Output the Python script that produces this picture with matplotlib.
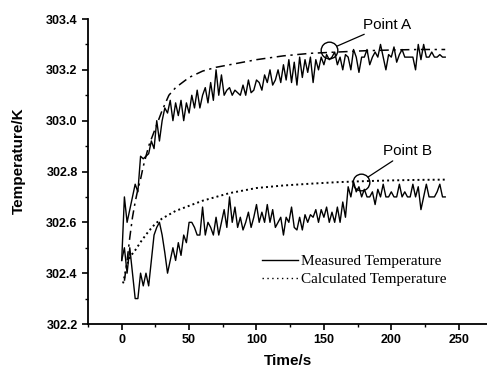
import matplotlib
matplotlib.use("Agg")
import matplotlib.pyplot as plt
from matplotlib.ticker import MultipleLocator
from matplotlib.lines import Line2D

# ---- data ----
t_meas = list(range(0, 242, 2))

meas_A = [302.45, 302.70, 302.60, 302.65, 302.70, 302.75, 302.72, 302.86, 302.85, 302.86,
          302.87, 302.92, 302.89, 303.00, 302.92, 303.00, 303.05, 303.03, 303.08, 303.00,
          303.07, 303.02, 303.08, 303.00, 303.07, 303.03, 303.10, 303.05, 303.12, 303.05,
          303.10, 303.13, 303.07, 303.15, 303.08, 303.20, 303.10, 303.18, 303.10, 303.12,
          303.13, 303.10, 303.12, 303.11, 303.10, 303.14, 303.10, 303.16, 303.11, 303.12,
          303.16, 303.15, 303.12, 303.18, 303.15, 303.20, 303.14, 303.16, 303.20, 303.15,
          303.22, 303.16, 303.24, 303.15, 303.23, 303.14, 303.25, 303.17, 303.24, 303.19,
          303.25, 303.15, 303.24, 303.20, 303.25, 303.22, 303.26, 303.24, 303.25, 303.27,
          303.22, 303.25, 303.20, 303.26, 303.25, 303.20, 303.28, 303.25, 303.19, 303.25,
          303.25, 303.28, 303.22, 303.25, 303.27, 303.25, 303.30, 303.25, 303.20, 303.26,
          303.25, 303.29, 303.23, 303.26, 303.28, 303.25, 303.25, 303.25, 303.25, 303.20,
          303.30, 303.24, 303.30, 303.25, 303.25, 303.27, 303.25, 303.25, 303.26, 303.25,
          303.25]

meas_B = [302.45, 302.50, 302.40, 302.50, 302.40, 302.30, 302.30, 302.40, 302.35, 302.40,
          302.35, 302.45, 302.55, 302.58, 302.60, 302.55, 302.48, 302.40, 302.45, 302.50,
          302.45, 302.52, 302.47, 302.55, 302.52, 302.60, 302.60, 302.58, 302.55, 302.55,
          302.66, 302.55, 302.60, 302.58, 302.55, 302.62, 302.55, 302.60, 302.65, 302.58,
          302.70, 302.60, 302.66, 302.58, 302.62, 302.57, 302.60, 302.64, 302.58, 302.62,
          302.67, 302.60, 302.64, 302.60, 302.67, 302.60, 302.65, 302.58, 302.60, 302.62,
          302.55, 302.62, 302.60, 302.66, 302.58, 302.57, 302.62, 302.57, 302.63, 302.60,
          302.63, 302.62, 302.65, 302.60, 302.65, 302.62, 302.66, 302.60, 302.64, 302.60,
          302.66, 302.60, 302.68, 302.62, 302.74, 302.70, 302.76, 302.72, 302.74, 302.70,
          302.73, 302.70, 302.70, 302.72, 302.67, 302.73, 302.70, 302.75, 302.70, 302.70,
          302.72, 302.70, 302.70, 302.75, 302.70, 302.72, 302.70, 302.70, 302.75, 302.70,
          302.74, 302.65, 302.70, 302.75, 302.70, 302.70, 302.70, 302.72, 302.75, 302.70,
          302.70]

t_calc_A = [2, 4, 6, 8, 10, 12, 14, 16, 18, 20, 25, 30, 35, 40, 45, 50, 60, 70, 80, 90,
            100, 120, 140, 160, 180, 200, 220, 240]
calc_A = [302.37, 302.45, 302.54, 302.62, 302.68, 302.73, 302.77, 302.82, 302.86, 302.90,
          302.97, 303.04, 303.10, 303.13, 303.15, 303.17, 303.195, 303.21, 303.22, 303.23,
          303.24, 303.255, 303.265, 303.27, 303.275, 303.278, 303.28, 303.28]

t_calc_B = [1, 3, 5, 7, 10, 15, 20, 25, 30, 40, 50, 60, 70, 80, 90, 100, 120, 140, 160,
            180, 200, 220, 240]
calc_B = [302.36, 302.41, 302.45, 302.47, 302.49, 302.53, 302.565, 302.595, 302.615,
          302.645, 302.665, 302.685, 302.70, 302.715, 302.725, 302.735, 302.745, 302.752,
          302.758, 302.762, 302.765, 302.767, 302.768]

point_labels = ["Point A", "Point B"]
point_t = [154, 177.5]
point_T = [303.28, 302.76]

x_ticks = [0, 50, 100, 150, 200, 250]
y_ticks = [302.2, 302.4, 302.6, 302.8, 303.0, 303.2, 303.4]

# ---- figure ----
fig = plt.figure(figsize=(4.87, 3.69), dpi=100)
ax = fig.add_axes([88/487, 1-324/369, 1-88/487, (324-19)/369])

ax.plot(t_meas, meas_A, color="black", lw=1.0)
ax.plot(t_meas, meas_B, color="black", lw=1.0)
ax.plot(t_calc_A, calc_A, color="black", lw=1.1, linestyle=(0, (6, 3, 1.5, 3)))
ax.plot(t_calc_B, calc_B, color="black", lw=1.4, linestyle=(0, (1, 1.6)))

# circles marking points
ax.plot(point_t, point_T, linestyle="none", marker="o", markersize=12,
        markerfacecolor="none", markeredgecolor="black", markeredgewidth=1.0)

# annotations
ax.annotate(point_labels[0], xy=(point_t[0], point_T[0]), xytext=(24, 18),
            textcoords="offset points", fontsize=11, family="Liberation Sans",
            ha="left", va="center",
            arrowprops=dict(arrowstyle="-", color="black", lw=0.9,
                            shrinkA=0, shrinkB=6))
ax.annotate(point_labels[1], xy=(point_t[1], point_T[1]), xytext=(16, 22),
            textcoords="offset points", fontsize=11, family="Liberation Sans",
            ha="left", va="center",
            arrowprops=dict(arrowstyle="-", color="black", lw=0.9,
                            shrinkA=0, shrinkB=6))

ax.set_xlim(-25, 271)
ax.set_ylim(302.2, 303.4)
ax.set_xticks(x_ticks)
ax.set_yticks(y_ticks)
ax.xaxis.set_minor_locator(MultipleLocator(25))
ax.yaxis.set_minor_locator(MultipleLocator(0.1))
ax.set_yticklabels([f"{v:.1f}" for v in y_ticks])

for s in ["top", "right"]:
    ax.spines[s].set_visible(False)
for s in ["left", "bottom"]:
    ax.spines[s].set_linewidth(1.3)

ax.tick_params(which="major", direction="out", length=4.5, width=1.2, pad=3)
ax.tick_params(which="minor", direction="out", length=2.5, width=1.0)
for lab in ax.get_xticklabels() + ax.get_yticklabels():
    lab.set_fontweight("bold")
    lab.set_fontsize(9)
    lab.set_family("Liberation Sans")

ax.set_xlabel("Time/s", fontsize=11, fontweight="bold", family="Liberation Sans",
              va="center")
ax.set_ylabel("Temperature/K", fontsize=11, fontweight="bold", family="Liberation Sans",
              va="center")
ax.xaxis.set_label_coords(0.5, (324-361)/305)
ax.yaxis.set_label_coords((19-88)/399, 0.535)

handles = [Line2D([], [], color="black", lw=1.0),
           Line2D([], [], color="black", lw=1.0, linestyle=(0, (1, 2.5)))]
ax.legend(handles, ["Measured Temperature", "Calculated Temperature"],
          loc="center left", bbox_to_anchor=((261.7-88)/399, (324-270.3)/305),
          frameon=False, handlelength=2.4, handletextpad=0.2, borderpad=0,
          borderaxespad=0, labelspacing=0.3,
          prop={"family": "Liberation Serif", "size": 11})

fig.savefig("out.png", dpi=100)
